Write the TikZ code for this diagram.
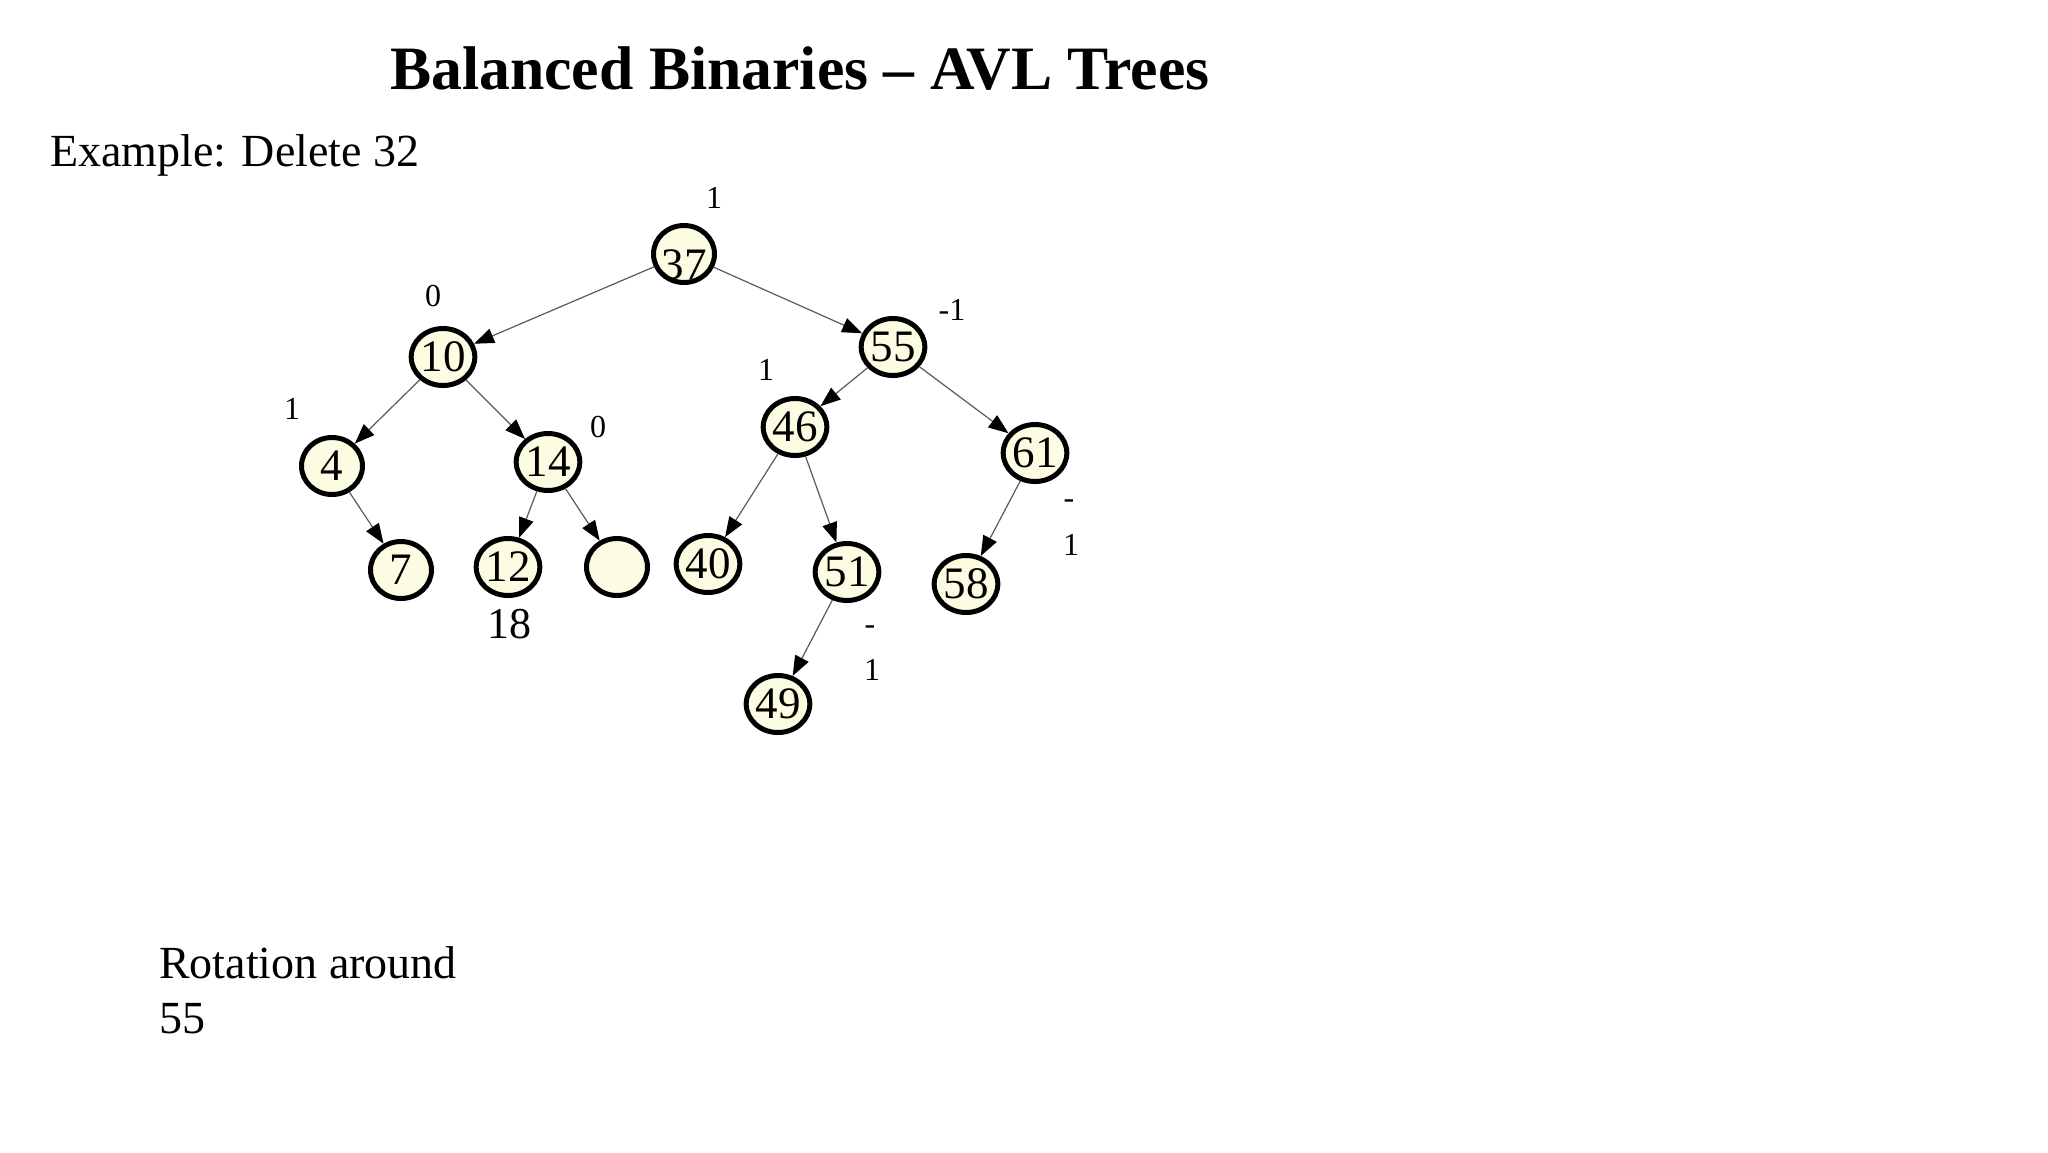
\documentclass[tikz,border=0pt]{standalone}
\usepackage{fontspec}
\setmainfont{Liberation Serif}
\usetikzlibrary{arrows.meta,shapes.geometric}
\definecolor{nodefill}{RGB}{252,252,226}
\definecolor{edgegray}{RGB}{90,90,90}
\begin{document}
\begin{tikzpicture}[x=1pt,y=-1pt,
  tn/.style={ellipse,draw=black,line width=5pt,fill=nodefill,minimum width=61pt,minimum height=57pt,inner sep=0pt,font=\fontsize{45}{48}\selectfont},
  bal/.style={inner sep=0pt,font=\fontsize{32}{36}\selectfont},
  txt/.style={inner sep=0pt,font=\fontsize{46}{55}\selectfont},
  edge/.style={draw=edgegray,line width=1.2pt,-{Triangle[length=20pt,width=15pt,color=black]}}]
\useasboundingbox (0,0) rectangle (2048,1152);
\fill[white] (0,0) rectangle (2048,1152);
% texts
\node[anchor=base west,inner sep=0pt,font=\bfseries\fontsize{61.7}{70}\selectfont] (title) at (390,89) {Balanced Binaries – AVL Trees};
\node[txt,anchor=base west] (example) at (50,166) {Example: Delete 32};
\node[txt,anchor=north west,align=left] (rot) at (159,946) {Rotation around\\55};
% tree nodes
\node[tn] (n37) at (684,254) {};
\node[inner sep=0pt,font=\fontsize{45}{48}\selectfont] (t37) at (684,265) {37};
\node[tn] (n10) at (443,357) {10};
\node[tn] (n4) at (332,466) {4};
\node[tn] (n14) at (548,462) {14};
\node[tn] (n7) at (401,570) {7};
\node[tn] (n12) at (508,567) {12};
\node[tn] (nE) at (617,567) {};
\node[tn] (n40) at (708,564) {40};
\node[tn] (n55) at (893,347) {55};
\node[tn] (n46) at (795,427) {46};
\node[tn] (n61) at (1035,453) {61};
\node[tn] (n51) at (847,572) {51};
\node[tn] (n58) at (966,584) {58};
\node[tn] (n49) at (778,704) {49};
% edges
\draw[edge] (n37) -- (n10);
\draw[edge] (n37) -- (n55);
\draw[edge] (n10) -- (n4);
\draw[edge] (n10) -- (n14);
\draw[edge] (n4) -- (n7);
\draw[edge] (n14) -- (n12);
\draw[edge] (n14) -- (nE);
\draw[edge] (n55) -- (n46);
\draw[edge] (n55) -- (n61);
\draw[edge] (n46) -- (n40);
\draw[edge] (n46) -- (n51);
\draw[edge] (n61) -- (n58);
\draw[edge] (n51) -- (n49);
% balance labels
\node[bal] (b37) at (714,198) {1};
\node[bal] (b10) at (433,296) {0};
\node[bal] (b4) at (292,409) {1};
\node[bal] (b14) at (598,427) {0};
\node[bal] (b46) at (766,370) {1};
\node[bal] (b55) at (952,310) {-1};
\node[bal] (b61a) at (1069,504) {-};
\node[bal] (b61b) at (1071,545) {1};
\node[bal] (b51a) at (870,630) {-};
\node[bal] (b51b) at (872,670) {1};
\node[inner sep=0pt,font=\fontsize{44}{48}\selectfont] (l18) at (509,624) {18};
\end{tikzpicture}
\end{document}
